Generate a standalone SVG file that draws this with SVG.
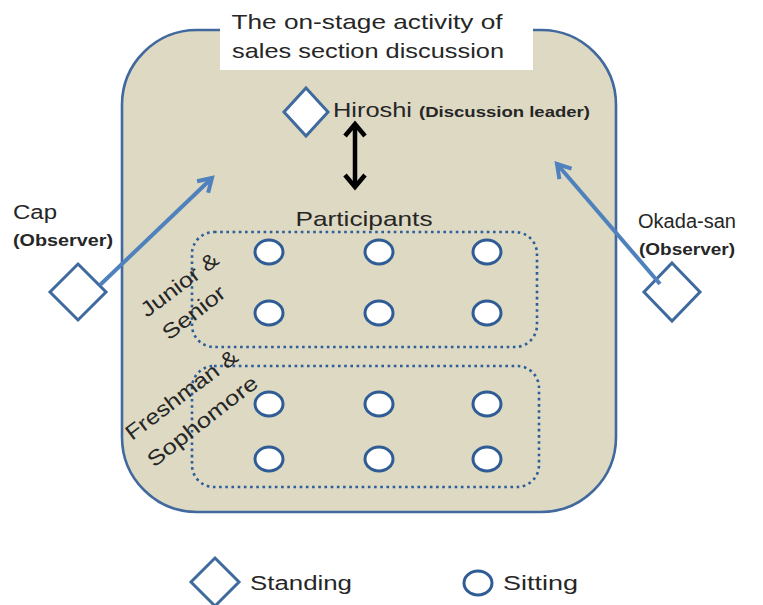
<svg xmlns="http://www.w3.org/2000/svg" width="763" height="605" viewBox="0 0 763 605">
  <style>
    .txt { font-family: "Liberation Sans", Arial, sans-serif; fill: #262626; }
    .sub { font-family: "Liberation Sans", Arial, sans-serif; fill: #262626; font-weight: bold; }
    .stand { fill: #ffffff; stroke: #3F6A9E; stroke-width: 3; stroke-linejoin: miter; }
    .sit { fill: #ffffff; stroke: #2F5C94; stroke-width: 3; }
    .group { fill: none; stroke: #2E5E99; stroke-width: 2.6; stroke-dasharray: 2.6 3.6; }
    .obs { stroke: #4F81BD; stroke-width: 4; fill: none; }
    .lead { stroke: #000000; stroke-width: 4.5; fill: none; }
  </style>
  <defs>
    <marker id="headBlue" viewBox="-18 -12 24 24" refX="0" refY="0" markerWidth="24" markerHeight="24" orient="auto" markerUnits="userSpaceOnUse">
      <path d="M-13,-8 L0,0 L-13,8" fill="none" stroke="#4F81BD" stroke-width="4"/>
    </marker>
    <marker id="headBlack" viewBox="-18 -14 24 28" refX="0" refY="0" markerWidth="24" markerHeight="28" orient="auto-start-reverse" markerUnits="userSpaceOnUse">
      <path d="M-12,-10 L0,0 L-12,10" fill="none" stroke="#000000" stroke-width="4.5"/>
    </marker>
  </defs>

  <rect width="763" height="605" fill="#ffffff"/>

  <!-- stage area -->
  <g id="stage">
    <rect x="122" y="30" width="494" height="482" rx="75" ry="75" fill="#DDD9C3" stroke="#41699E" stroke-width="2.6"/>
    <rect x="220" y="0" width="313" height="70" fill="#ffffff"/>
    <text class="txt" x="367" y="29" font-size="21" text-anchor="middle" textLength="271" lengthAdjust="spacingAndGlyphs">The on-stage activity of</text>
    <text class="txt" x="368" y="58" font-size="21" text-anchor="middle" textLength="272" lengthAdjust="spacingAndGlyphs">sales section discussion</text>
  </g>

  <!-- participant groups -->
  <g id="junior-senior">
    <rect x="192" y="232" width="345" height="115" rx="22" ry="22" class="group"/>
    <text class="txt" font-size="21" transform="translate(147,318) rotate(-37)" textLength="92" lengthAdjust="spacingAndGlyphs">Junior &amp;</text>
    <text class="txt" font-size="21" transform="translate(169,341) rotate(-38)" textLength="74" lengthAdjust="spacingAndGlyphs">Senior</text>
    <ellipse cx="269" cy="252" rx="14" ry="12" class="sit"/>
    <ellipse cx="379" cy="252" rx="14" ry="12" class="sit"/>
    <ellipse cx="487" cy="252" rx="14" ry="12" class="sit"/>
    <ellipse cx="269" cy="313" rx="14" ry="12" class="sit"/>
    <ellipse cx="379" cy="313" rx="14" ry="12" class="sit"/>
    <ellipse cx="487" cy="313" rx="14" ry="12" class="sit"/>
  </g>

  <g id="freshman-sophomore">
    <rect x="192" y="366" width="347" height="121" rx="22" ry="22" class="group"/>
    <ellipse cx="269" cy="404" rx="14" ry="12" class="sit"/>
    <ellipse cx="379" cy="404" rx="14" ry="12" class="sit"/>
    <ellipse cx="487" cy="404" rx="14" ry="12" class="sit"/>
    <ellipse cx="269" cy="459" rx="14" ry="12" class="sit"/>
    <ellipse cx="379" cy="459" rx="14" ry="12" class="sit"/>
    <ellipse cx="487" cy="459" rx="14" ry="12" class="sit"/>
    <text class="txt" font-size="21" transform="translate(132,441) rotate(-37)" textLength="135" lengthAdjust="spacingAndGlyphs">Freshman &amp;</text>
    <text class="txt" font-size="21" transform="translate(154,468) rotate(-38)" textLength="134" lengthAdjust="spacingAndGlyphs">Sophomore</text>
  </g>

  <g id="participants-label">
    <text class="txt" x="364" y="226" font-size="21" text-anchor="middle" textLength="137" lengthAdjust="spacingAndGlyphs">Participants</text>
  </g>

  <!-- discussion leader -->
  <g id="hiroshi">
    <polygon points="306,88 328,112 306,136 284,112" class="stand"/>
    <text class="txt" x="333" y="117" font-size="20" textLength="79" lengthAdjust="spacingAndGlyphs">Hiroshi</text>
    <text class="sub" x="419" y="117" font-size="15" textLength="171" lengthAdjust="spacingAndGlyphs">(Discussion leader)</text>
  </g>

  <!-- observers -->
  <g id="cap">
    <polygon points="78,264 106,292 78,320 50,292" class="stand"/>
    <text class="txt" x="13" y="219" font-size="20" textLength="44" lengthAdjust="spacingAndGlyphs">Cap</text>
    <text class="sub" x="13" y="246" font-size="16" textLength="100" lengthAdjust="spacingAndGlyphs">(Observer)</text>
  </g>

  <g id="okada">
    <polygon points="672,263 700,292 672,321 644,292" class="stand"/>
    <text class="txt" x="638" y="228" font-size="20" textLength="98" lengthAdjust="spacingAndGlyphs">Okada-san</text>
    <text class="sub" x="639" y="255" font-size="16" textLength="96" lengthAdjust="spacingAndGlyphs">(Observer)</text>
  </g>

  <!-- connectors -->
  <g id="connectors">
    <line x1="100" y1="285" x2="212" y2="178" class="obs" marker-end="url(#headBlue)"/>
    <line x1="660" y1="284" x2="557" y2="164" class="obs" marker-end="url(#headBlue)"/>
    <line x1="355" y1="124" x2="355" y2="187" class="lead" marker-start="url(#headBlack)" marker-end="url(#headBlack)"/>
  </g>

  <!-- legend -->
  <g id="legend-standing">
    <polygon points="215,558 239,582 215,606 191,582" class="stand"/>
    <text class="txt" x="250" y="590" font-size="20" textLength="102" lengthAdjust="spacingAndGlyphs">Standing</text>
  </g>
  <g id="legend-sitting">
    <ellipse cx="478" cy="583" rx="14" ry="12" class="sit"/>
    <text class="txt" x="503" y="590" font-size="20" textLength="75" lengthAdjust="spacingAndGlyphs">Sitting</text>
  </g>
</svg>
